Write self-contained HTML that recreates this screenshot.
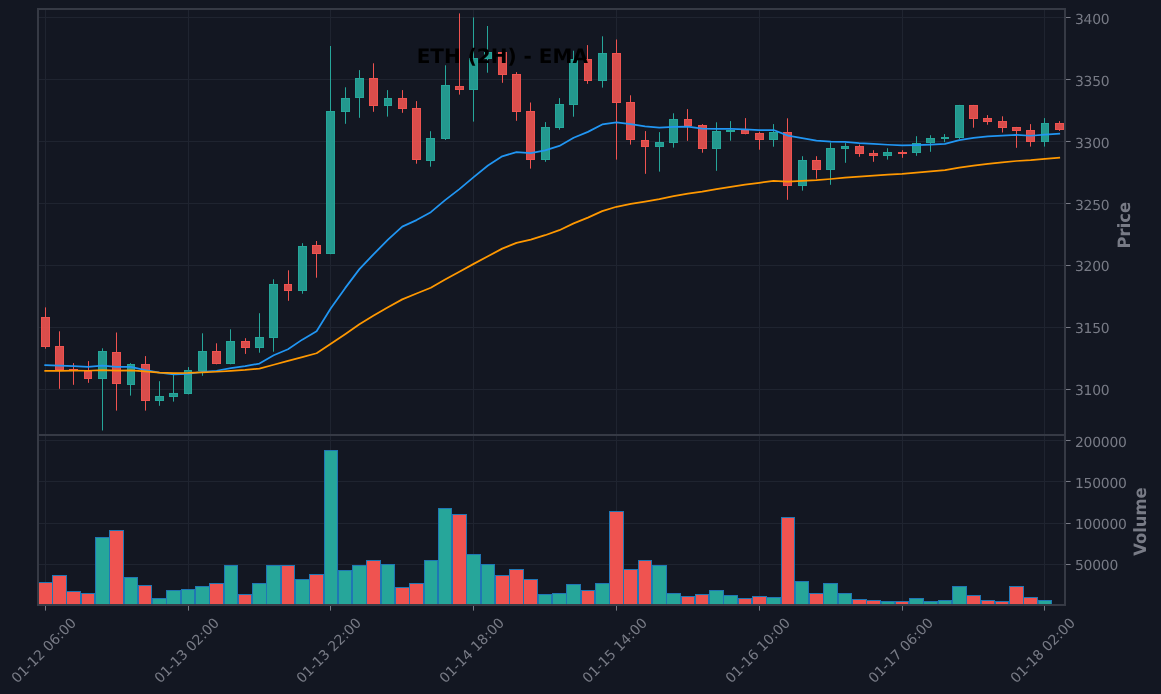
<!DOCTYPE html>
<html lang="en"><head><meta charset="utf-8"><title>ETH (2H) - EMA</title>
<style>html,body{margin:0;padding:0;background:#131722;overflow:hidden}svg{display:block}svg text{font-family:"DejaVu Sans","Liberation Sans",sans-serif;text-rendering:geometricPrecision}#wrap{will-change:transform;width:1161px;height:694px}</style></head>
<body>
<div id="wrap">
<svg width="1161" height="694" viewBox="0 0 1161 694">
<rect width="1161" height="694" fill="#131722"/>
<g fill="#1f2430">
<rect x="45" y="9" width="1" height="596"/>
<rect x="188" y="9" width="1" height="596"/>
<rect x="330" y="9" width="1" height="596"/>
<rect x="473" y="9" width="1" height="596"/>
<rect x="616" y="9" width="1" height="596"/>
<rect x="759" y="9" width="1" height="596"/>
<rect x="902" y="9" width="1" height="596"/>
<rect x="1044" y="9" width="1" height="596"/>
<rect x="38" y="17" width="1027" height="1"/>
<rect x="38" y="79" width="1027" height="1"/>
<rect x="38" y="141" width="1027" height="1"/>
<rect x="38" y="203" width="1027" height="1"/>
<rect x="38" y="265" width="1027" height="1"/>
<rect x="38" y="327" width="1027" height="1"/>
<rect x="38" y="389" width="1027" height="1"/>
<rect x="38" y="440" width="1027" height="1"/>
<rect x="38" y="481" width="1027" height="1"/>
<rect x="38" y="523" width="1027" height="1"/>
<rect x="38" y="564" width="1027" height="1"/>
</g>
<defs><clipPath id="cp"><rect x="38" y="9" width="1027" height="426"/></clipPath><clipPath id="cv"><rect x="38" y="435" width="1027" height="170"/></clipPath></defs>
<g clip-path="url(#cv)">
<rect x="38" y="582" width="15" height="23" fill="#1f77b4"/>
<rect x="39" y="583" width="13" height="22" fill="#ef5350"/>
<rect x="52" y="575" width="15" height="30" fill="#1f77b4"/>
<rect x="53" y="576" width="13" height="29" fill="#ef5350"/>
<rect x="66" y="591" width="15" height="14" fill="#1f77b4"/>
<rect x="67" y="592" width="13" height="13" fill="#ef5350"/>
<rect x="81" y="593" width="14" height="12" fill="#1f77b4"/>
<rect x="82" y="594" width="12" height="11" fill="#ef5350"/>
<rect x="95" y="537" width="15" height="68" fill="#1f77b4"/>
<rect x="96" y="538" width="13" height="67" fill="#26a69a"/>
<rect x="109" y="530" width="15" height="75" fill="#1f77b4"/>
<rect x="110" y="531" width="13" height="74" fill="#ef5350"/>
<rect x="124" y="577" width="14" height="28" fill="#1f77b4"/>
<rect x="125" y="578" width="12" height="27" fill="#26a69a"/>
<rect x="138" y="585" width="14" height="20" fill="#1f77b4"/>
<rect x="139" y="586" width="12" height="19" fill="#ef5350"/>
<rect x="152" y="598" width="15" height="7" fill="#1f77b4"/>
<rect x="153" y="599" width="13" height="6" fill="#26a69a"/>
<rect x="166" y="590" width="15" height="15" fill="#1f77b4"/>
<rect x="167" y="591" width="13" height="14" fill="#26a69a"/>
<rect x="181" y="589" width="14" height="16" fill="#1f77b4"/>
<rect x="182" y="590" width="12" height="15" fill="#26a69a"/>
<rect x="195" y="586" width="15" height="19" fill="#1f77b4"/>
<rect x="196" y="587" width="13" height="18" fill="#26a69a"/>
<rect x="209" y="583" width="15" height="22" fill="#1f77b4"/>
<rect x="210" y="584" width="13" height="21" fill="#ef5350"/>
<rect x="224" y="565" width="14" height="40" fill="#1f77b4"/>
<rect x="225" y="566" width="12" height="39" fill="#26a69a"/>
<rect x="238" y="594" width="14" height="11" fill="#1f77b4"/>
<rect x="239" y="595" width="12" height="10" fill="#ef5350"/>
<rect x="252" y="583" width="15" height="22" fill="#1f77b4"/>
<rect x="253" y="584" width="13" height="21" fill="#26a69a"/>
<rect x="266" y="565" width="15" height="40" fill="#1f77b4"/>
<rect x="267" y="566" width="13" height="39" fill="#26a69a"/>
<rect x="281" y="565" width="14" height="40" fill="#1f77b4"/>
<rect x="282" y="566" width="12" height="39" fill="#ef5350"/>
<rect x="295" y="579" width="15" height="26" fill="#1f77b4"/>
<rect x="296" y="580" width="13" height="25" fill="#26a69a"/>
<rect x="309" y="574" width="15" height="31" fill="#1f77b4"/>
<rect x="310" y="575" width="13" height="30" fill="#ef5350"/>
<rect x="324" y="450" width="14" height="155" fill="#1f77b4"/>
<rect x="325" y="451" width="12" height="154" fill="#26a69a"/>
<rect x="338" y="570" width="14" height="35" fill="#1f77b4"/>
<rect x="339" y="571" width="12" height="34" fill="#26a69a"/>
<rect x="352" y="565" width="15" height="40" fill="#1f77b4"/>
<rect x="353" y="566" width="13" height="39" fill="#26a69a"/>
<rect x="366" y="560" width="15" height="45" fill="#1f77b4"/>
<rect x="367" y="561" width="13" height="44" fill="#ef5350"/>
<rect x="381" y="564" width="14" height="41" fill="#1f77b4"/>
<rect x="382" y="565" width="12" height="40" fill="#26a69a"/>
<rect x="395" y="587" width="15" height="18" fill="#1f77b4"/>
<rect x="396" y="588" width="13" height="17" fill="#ef5350"/>
<rect x="409" y="583" width="15" height="22" fill="#1f77b4"/>
<rect x="410" y="584" width="13" height="21" fill="#ef5350"/>
<rect x="424" y="560" width="14" height="45" fill="#1f77b4"/>
<rect x="425" y="561" width="12" height="44" fill="#26a69a"/>
<rect x="438" y="508" width="14" height="97" fill="#1f77b4"/>
<rect x="439" y="509" width="12" height="96" fill="#26a69a"/>
<rect x="452" y="514" width="15" height="91" fill="#1f77b4"/>
<rect x="453" y="515" width="13" height="90" fill="#ef5350"/>
<rect x="466" y="554" width="15" height="51" fill="#1f77b4"/>
<rect x="467" y="555" width="13" height="50" fill="#26a69a"/>
<rect x="481" y="564" width="14" height="41" fill="#1f77b4"/>
<rect x="482" y="565" width="12" height="40" fill="#26a69a"/>
<rect x="495" y="575" width="15" height="30" fill="#1f77b4"/>
<rect x="496" y="576" width="13" height="29" fill="#ef5350"/>
<rect x="509" y="569" width="15" height="36" fill="#1f77b4"/>
<rect x="510" y="570" width="13" height="35" fill="#ef5350"/>
<rect x="523" y="579" width="15" height="26" fill="#1f77b4"/>
<rect x="524" y="580" width="13" height="25" fill="#ef5350"/>
<rect x="538" y="594" width="14" height="11" fill="#1f77b4"/>
<rect x="539" y="595" width="12" height="10" fill="#26a69a"/>
<rect x="552" y="593" width="15" height="12" fill="#1f77b4"/>
<rect x="553" y="594" width="13" height="11" fill="#26a69a"/>
<rect x="566" y="584" width="15" height="21" fill="#1f77b4"/>
<rect x="567" y="585" width="13" height="20" fill="#26a69a"/>
<rect x="581" y="590" width="14" height="15" fill="#1f77b4"/>
<rect x="582" y="591" width="12" height="14" fill="#ef5350"/>
<rect x="595" y="583" width="15" height="22" fill="#1f77b4"/>
<rect x="596" y="584" width="13" height="21" fill="#26a69a"/>
<rect x="609" y="511" width="15" height="94" fill="#1f77b4"/>
<rect x="610" y="512" width="13" height="93" fill="#ef5350"/>
<rect x="623" y="569" width="15" height="36" fill="#1f77b4"/>
<rect x="624" y="570" width="13" height="35" fill="#ef5350"/>
<rect x="638" y="560" width="14" height="45" fill="#1f77b4"/>
<rect x="639" y="561" width="12" height="44" fill="#ef5350"/>
<rect x="652" y="565" width="15" height="40" fill="#1f77b4"/>
<rect x="653" y="566" width="13" height="39" fill="#26a69a"/>
<rect x="666" y="593" width="15" height="12" fill="#1f77b4"/>
<rect x="667" y="594" width="13" height="11" fill="#26a69a"/>
<rect x="681" y="596" width="14" height="9" fill="#1f77b4"/>
<rect x="682" y="597" width="12" height="8" fill="#ef5350"/>
<rect x="695" y="594" width="14" height="11" fill="#1f77b4"/>
<rect x="696" y="595" width="12" height="10" fill="#ef5350"/>
<rect x="709" y="590" width="15" height="15" fill="#1f77b4"/>
<rect x="710" y="591" width="13" height="14" fill="#26a69a"/>
<rect x="723" y="595" width="15" height="10" fill="#1f77b4"/>
<rect x="724" y="596" width="13" height="9" fill="#26a69a"/>
<rect x="738" y="598" width="14" height="7" fill="#1f77b4"/>
<rect x="739" y="599" width="12" height="6" fill="#ef5350"/>
<rect x="752" y="596" width="15" height="9" fill="#1f77b4"/>
<rect x="753" y="597" width="13" height="8" fill="#ef5350"/>
<rect x="766" y="597" width="15" height="8" fill="#1f77b4"/>
<rect x="767" y="598" width="13" height="7" fill="#26a69a"/>
<rect x="781" y="517" width="14" height="88" fill="#1f77b4"/>
<rect x="782" y="518" width="12" height="87" fill="#ef5350"/>
<rect x="795" y="581" width="14" height="24" fill="#1f77b4"/>
<rect x="796" y="582" width="12" height="23" fill="#26a69a"/>
<rect x="809" y="593" width="15" height="12" fill="#1f77b4"/>
<rect x="810" y="594" width="13" height="11" fill="#ef5350"/>
<rect x="823" y="583" width="15" height="22" fill="#1f77b4"/>
<rect x="824" y="584" width="13" height="21" fill="#26a69a"/>
<rect x="838" y="593" width="14" height="12" fill="#1f77b4"/>
<rect x="839" y="594" width="12" height="11" fill="#26a69a"/>
<rect x="852" y="599" width="15" height="6" fill="#1f77b4"/>
<rect x="853" y="600" width="13" height="5" fill="#ef5350"/>
<rect x="866" y="600" width="15" height="5" fill="#1f77b4"/>
<rect x="867" y="601" width="13" height="4" fill="#ef5350"/>
<rect x="881" y="601" width="14" height="4" fill="#1f77b4"/>
<rect x="882" y="602" width="12" height="3" fill="#26a69a"/>
<rect x="895" y="601" width="14" height="4" fill="#1f77b4"/>
<rect x="896" y="602" width="12" height="3" fill="#ef5350"/>
<rect x="909" y="598" width="15" height="7" fill="#1f77b4"/>
<rect x="910" y="599" width="13" height="6" fill="#26a69a"/>
<rect x="923" y="601" width="15" height="4" fill="#1f77b4"/>
<rect x="924" y="602" width="13" height="3" fill="#26a69a"/>
<rect x="938" y="600" width="14" height="5" fill="#1f77b4"/>
<rect x="939" y="601" width="12" height="4" fill="#26a69a"/>
<rect x="952" y="586" width="15" height="19" fill="#1f77b4"/>
<rect x="953" y="587" width="13" height="18" fill="#26a69a"/>
<rect x="966" y="595" width="15" height="10" fill="#1f77b4"/>
<rect x="967" y="596" width="13" height="9" fill="#ef5350"/>
<rect x="981" y="600" width="14" height="5" fill="#1f77b4"/>
<rect x="982" y="601" width="12" height="4" fill="#ef5350"/>
<rect x="995" y="601" width="14" height="4" fill="#1f77b4"/>
<rect x="996" y="602" width="12" height="3" fill="#ef5350"/>
<rect x="1009" y="586" width="15" height="19" fill="#1f77b4"/>
<rect x="1010" y="587" width="13" height="18" fill="#ef5350"/>
<rect x="1023" y="597" width="15" height="8" fill="#1f77b4"/>
<rect x="1024" y="598" width="13" height="7" fill="#ef5350"/>
<rect x="1038" y="600" width="14" height="5" fill="#1f77b4"/>
<rect x="1039" y="601" width="12" height="4" fill="#26a69a"/>
</g>
<g clip-path="url(#cp)">
<rect x="45" y="307.4" width="1" height="9.6" fill="#ef5350"/>
<rect x="45" y="347" width="1" height="1.7" fill="#ef5350"/>
<rect x="41" y="317" width="9" height="30" fill="#ef5350" fill-opacity="0.9"/>
<rect x="41.5" y="317.5" width="8" height="29" fill="none" stroke="#ef5350" stroke-width="1"/>
<rect x="59" y="331.3" width="1" height="14.7" fill="#ef5350"/>
<rect x="59" y="370" width="1" height="18.8" fill="#ef5350"/>
<rect x="55" y="346" width="9" height="24" fill="#ef5350" fill-opacity="0.9"/>
<rect x="55.5" y="346.5" width="8" height="23" fill="none" stroke="#ef5350" stroke-width="1"/>
<rect x="73" y="363.1" width="1" height="5.9" fill="#ef5350"/>
<rect x="73" y="371" width="1" height="13.8" fill="#ef5350"/>
<rect x="69" y="369" width="9" height="2" fill="#ef5350" fill-opacity="0.9"/>
<rect x="69.5" y="369.5" width="8" height="1" fill="none" stroke="#ef5350" stroke-width="1"/>
<rect x="88" y="361.1" width="1" height="9.9" fill="#ef5350"/>
<rect x="88" y="379" width="1" height="3.8" fill="#ef5350"/>
<rect x="84" y="371" width="8" height="8" fill="#ef5350" fill-opacity="0.9"/>
<rect x="84.5" y="371.5" width="7" height="7" fill="none" stroke="#ef5350" stroke-width="1"/>
<rect x="102" y="348.3" width="1" height="2.7" fill="#26a69a"/>
<rect x="102" y="379" width="1" height="51.5" fill="#26a69a"/>
<rect x="98" y="351" width="9" height="28" fill="#26a69a" fill-opacity="0.9"/>
<rect x="98.5" y="351.5" width="8" height="27" fill="none" stroke="#26a69a" stroke-width="1"/>
<rect x="116" y="332.5" width="1" height="19.5" fill="#ef5350"/>
<rect x="116" y="384" width="1" height="26.6" fill="#ef5350"/>
<rect x="112" y="352" width="9" height="32" fill="#ef5350" fill-opacity="0.9"/>
<rect x="112.5" y="352.5" width="8" height="31" fill="none" stroke="#ef5350" stroke-width="1"/>
<rect x="130" y="363.1" width="1" height="0.9" fill="#26a69a"/>
<rect x="130" y="385" width="1" height="10.6" fill="#26a69a"/>
<rect x="127" y="364" width="8" height="21" fill="#26a69a" fill-opacity="0.9"/>
<rect x="127.5" y="364.5" width="7" height="20" fill="none" stroke="#26a69a" stroke-width="1"/>
<rect x="145" y="356.1" width="1" height="7.9" fill="#ef5350"/>
<rect x="145" y="401" width="1" height="9.6" fill="#ef5350"/>
<rect x="141" y="364" width="9" height="37" fill="#ef5350" fill-opacity="0.9"/>
<rect x="141.5" y="364.5" width="8" height="36" fill="none" stroke="#ef5350" stroke-width="1"/>
<rect x="159" y="381.2" width="1" height="14.8" fill="#26a69a"/>
<rect x="159" y="401" width="1" height="4.8" fill="#26a69a"/>
<rect x="155" y="396" width="9" height="5" fill="#26a69a" fill-opacity="0.9"/>
<rect x="155.5" y="396.5" width="8" height="4" fill="none" stroke="#26a69a" stroke-width="1"/>
<rect x="173" y="374.8" width="1" height="18.2" fill="#26a69a"/>
<rect x="173" y="397" width="1" height="4.6" fill="#26a69a"/>
<rect x="169" y="393" width="9" height="4" fill="#26a69a" fill-opacity="0.9"/>
<rect x="169.5" y="393.5" width="8" height="3" fill="none" stroke="#26a69a" stroke-width="1"/>
<rect x="188" y="367.1" width="1" height="2.9" fill="#26a69a"/>
<rect x="188" y="394" width="1" height="0.4" fill="#26a69a"/>
<rect x="184" y="370" width="8" height="24" fill="#26a69a" fill-opacity="0.9"/>
<rect x="184.5" y="370.5" width="7" height="23" fill="none" stroke="#26a69a" stroke-width="1"/>
<rect x="202" y="333.3" width="1" height="17.7" fill="#26a69a"/>
<rect x="202" y="371" width="1" height="4.8" fill="#26a69a"/>
<rect x="198" y="351" width="9" height="20" fill="#26a69a" fill-opacity="0.9"/>
<rect x="198.5" y="351.5" width="8" height="19" fill="none" stroke="#26a69a" stroke-width="1"/>
<rect x="216" y="343.3" width="1" height="7.7" fill="#ef5350"/>
<rect x="216" y="364" width="1" height="0.3" fill="#ef5350"/>
<rect x="212" y="351" width="9" height="13" fill="#ef5350" fill-opacity="0.9"/>
<rect x="212.5" y="351.5" width="8" height="12" fill="none" stroke="#ef5350" stroke-width="1"/>
<rect x="230" y="329.3" width="1" height="11.7" fill="#26a69a"/>
<rect x="230" y="364" width="1" height="0.3" fill="#26a69a"/>
<rect x="226" y="341" width="9" height="23" fill="#26a69a" fill-opacity="0.9"/>
<rect x="226.5" y="341.5" width="8" height="22" fill="none" stroke="#26a69a" stroke-width="1"/>
<rect x="245" y="338.2" width="1" height="2.8" fill="#ef5350"/>
<rect x="245" y="348" width="1" height="5.9" fill="#ef5350"/>
<rect x="241" y="341" width="9" height="7" fill="#ef5350" fill-opacity="0.9"/>
<rect x="241.5" y="341.5" width="8" height="6" fill="none" stroke="#ef5350" stroke-width="1"/>
<rect x="259" y="313.2" width="1" height="23.8" fill="#26a69a"/>
<rect x="259" y="348" width="1" height="4.7" fill="#26a69a"/>
<rect x="255" y="337" width="9" height="11" fill="#26a69a" fill-opacity="0.9"/>
<rect x="255.5" y="337.5" width="8" height="10" fill="none" stroke="#26a69a" stroke-width="1"/>
<rect x="273" y="279.3" width="1" height="4.7" fill="#26a69a"/>
<rect x="273" y="338" width="1" height="13.7" fill="#26a69a"/>
<rect x="269" y="284" width="9" height="54" fill="#26a69a" fill-opacity="0.9"/>
<rect x="269.5" y="284.5" width="8" height="53" fill="none" stroke="#26a69a" stroke-width="1"/>
<rect x="288" y="270.3" width="1" height="13.7" fill="#ef5350"/>
<rect x="288" y="291" width="1" height="9.8" fill="#ef5350"/>
<rect x="284" y="284" width="8" height="7" fill="#ef5350" fill-opacity="0.9"/>
<rect x="284.5" y="284.5" width="7" height="6" fill="none" stroke="#ef5350" stroke-width="1"/>
<rect x="302" y="243.2" width="1" height="2.8" fill="#26a69a"/>
<rect x="302" y="291" width="1" height="2.7" fill="#26a69a"/>
<rect x="298" y="246" width="9" height="45" fill="#26a69a" fill-opacity="0.9"/>
<rect x="298.5" y="246.5" width="8" height="44" fill="none" stroke="#26a69a" stroke-width="1"/>
<rect x="316" y="241.0" width="1" height="4.0" fill="#ef5350"/>
<rect x="316" y="254" width="1" height="23.7" fill="#ef5350"/>
<rect x="312" y="245" width="9" height="9" fill="#ef5350" fill-opacity="0.9"/>
<rect x="312.5" y="245.5" width="8" height="8" fill="none" stroke="#ef5350" stroke-width="1"/>
<rect x="330" y="46.0" width="1" height="65.0" fill="#26a69a"/>
<rect x="330" y="254" width="1" height="0.2" fill="#26a69a"/>
<rect x="326" y="111" width="9" height="143" fill="#26a69a" fill-opacity="0.9"/>
<rect x="326.5" y="111.5" width="8" height="142" fill="none" stroke="#26a69a" stroke-width="1"/>
<rect x="345" y="87.3" width="1" height="10.7" fill="#26a69a"/>
<rect x="345" y="112" width="1" height="11.8" fill="#26a69a"/>
<rect x="341" y="98" width="9" height="14" fill="#26a69a" fill-opacity="0.9"/>
<rect x="341.5" y="98.5" width="8" height="13" fill="none" stroke="#26a69a" stroke-width="1"/>
<rect x="359" y="70.1" width="1" height="7.9" fill="#26a69a"/>
<rect x="359" y="98" width="1" height="19.8" fill="#26a69a"/>
<rect x="355" y="78" width="9" height="20" fill="#26a69a" fill-opacity="0.9"/>
<rect x="355.5" y="78.5" width="8" height="19" fill="none" stroke="#26a69a" stroke-width="1"/>
<rect x="373" y="63.3" width="1" height="14.7" fill="#ef5350"/>
<rect x="373" y="106" width="1" height="5.8" fill="#ef5350"/>
<rect x="369" y="78" width="9" height="28" fill="#ef5350" fill-opacity="0.9"/>
<rect x="369.5" y="78.5" width="8" height="27" fill="none" stroke="#ef5350" stroke-width="1"/>
<rect x="387" y="90.1" width="1" height="7.9" fill="#26a69a"/>
<rect x="387" y="106" width="1" height="10.6" fill="#26a69a"/>
<rect x="384" y="98" width="8" height="8" fill="#26a69a" fill-opacity="0.9"/>
<rect x="384.5" y="98.5" width="7" height="7" fill="none" stroke="#26a69a" stroke-width="1"/>
<rect x="402" y="90.1" width="1" height="7.9" fill="#ef5350"/>
<rect x="402" y="109" width="1" height="3.8" fill="#ef5350"/>
<rect x="398" y="98" width="9" height="11" fill="#ef5350" fill-opacity="0.9"/>
<rect x="398.5" y="98.5" width="8" height="10" fill="none" stroke="#ef5350" stroke-width="1"/>
<rect x="416" y="101.1" width="1" height="6.9" fill="#ef5350"/>
<rect x="416" y="160" width="1" height="3.7" fill="#ef5350"/>
<rect x="412" y="108" width="9" height="52" fill="#ef5350" fill-opacity="0.9"/>
<rect x="412.5" y="108.5" width="8" height="51" fill="none" stroke="#ef5350" stroke-width="1"/>
<rect x="430" y="131.2" width="1" height="6.8" fill="#26a69a"/>
<rect x="430" y="161" width="1" height="5.7" fill="#26a69a"/>
<rect x="426" y="138" width="9" height="23" fill="#26a69a" fill-opacity="0.9"/>
<rect x="426.5" y="138.5" width="8" height="22" fill="none" stroke="#26a69a" stroke-width="1"/>
<rect x="445" y="65.3" width="1" height="19.7" fill="#26a69a"/>
<rect x="445" y="139" width="1" height="1.0" fill="#26a69a"/>
<rect x="441" y="85" width="9" height="54" fill="#26a69a" fill-opacity="0.9"/>
<rect x="441.5" y="85.5" width="8" height="53" fill="none" stroke="#26a69a" stroke-width="1"/>
<rect x="459" y="13.4" width="1" height="72.6" fill="#ef5350"/>
<rect x="459" y="90" width="1" height="4.6" fill="#ef5350"/>
<rect x="455" y="86" width="9" height="4" fill="#ef5350" fill-opacity="0.9"/>
<rect x="455.5" y="86.5" width="8" height="3" fill="none" stroke="#ef5350" stroke-width="1"/>
<rect x="473" y="17.4" width="1" height="40.6" fill="#26a69a"/>
<rect x="473" y="90" width="1" height="31.6" fill="#26a69a"/>
<rect x="469" y="58" width="9" height="32" fill="#26a69a" fill-opacity="0.9"/>
<rect x="469.5" y="58.5" width="8" height="31" fill="none" stroke="#26a69a" stroke-width="1"/>
<rect x="487" y="26.0" width="1" height="26.0" fill="#26a69a"/>
<rect x="487" y="59" width="1" height="13.7" fill="#26a69a"/>
<rect x="484" y="52" width="8" height="7" fill="#26a69a" fill-opacity="0.9"/>
<rect x="484.5" y="52.5" width="7" height="6" fill="none" stroke="#26a69a" stroke-width="1"/>
<rect x="502" y="50.7" width="1" height="1.3" fill="#ef5350"/>
<rect x="502" y="75" width="1" height="7.8" fill="#ef5350"/>
<rect x="498" y="52" width="9" height="23" fill="#ef5350" fill-opacity="0.9"/>
<rect x="498.5" y="52.5" width="8" height="22" fill="none" stroke="#ef5350" stroke-width="1"/>
<rect x="516" y="72.1" width="1" height="1.9" fill="#ef5350"/>
<rect x="516" y="112" width="1" height="8.8" fill="#ef5350"/>
<rect x="512" y="74" width="9" height="38" fill="#ef5350" fill-opacity="0.9"/>
<rect x="512.5" y="74.5" width="8" height="37" fill="none" stroke="#ef5350" stroke-width="1"/>
<rect x="530" y="102.5" width="1" height="8.5" fill="#ef5350"/>
<rect x="530" y="160" width="1" height="8.6" fill="#ef5350"/>
<rect x="526" y="111" width="9" height="49" fill="#ef5350" fill-opacity="0.9"/>
<rect x="526.5" y="111.5" width="8" height="48" fill="none" stroke="#ef5350" stroke-width="1"/>
<rect x="545" y="122.1" width="1" height="4.9" fill="#26a69a"/>
<rect x="545" y="160" width="1" height="1.8" fill="#26a69a"/>
<rect x="541" y="127" width="9" height="33" fill="#26a69a" fill-opacity="0.9"/>
<rect x="541.5" y="127.5" width="8" height="32" fill="none" stroke="#26a69a" stroke-width="1"/>
<rect x="559" y="98.1" width="1" height="5.9" fill="#26a69a"/>
<rect x="559" y="128" width="1" height="1.7" fill="#26a69a"/>
<rect x="555" y="104" width="9" height="24" fill="#26a69a" fill-opacity="0.9"/>
<rect x="555.5" y="104.5" width="8" height="23" fill="none" stroke="#26a69a" stroke-width="1"/>
<rect x="573" y="50.7" width="1" height="8.3" fill="#26a69a"/>
<rect x="573" y="105" width="1" height="11.7" fill="#26a69a"/>
<rect x="569" y="59" width="9" height="46" fill="#26a69a" fill-opacity="0.9"/>
<rect x="569.5" y="59.5" width="8" height="45" fill="none" stroke="#26a69a" stroke-width="1"/>
<rect x="587" y="45.1" width="1" height="13.9" fill="#ef5350"/>
<rect x="587" y="81" width="1" height="2.8" fill="#ef5350"/>
<rect x="584" y="59" width="8" height="22" fill="#ef5350" fill-opacity="0.9"/>
<rect x="584.5" y="59.5" width="7" height="21" fill="none" stroke="#ef5350" stroke-width="1"/>
<rect x="602" y="36.3" width="1" height="16.7" fill="#26a69a"/>
<rect x="602" y="81" width="1" height="6.6" fill="#26a69a"/>
<rect x="598" y="53" width="9" height="28" fill="#26a69a" fill-opacity="0.9"/>
<rect x="598.5" y="53.5" width="8" height="27" fill="none" stroke="#26a69a" stroke-width="1"/>
<rect x="616" y="39.5" width="1" height="13.5" fill="#ef5350"/>
<rect x="616" y="103" width="1" height="56.6" fill="#ef5350"/>
<rect x="612" y="53" width="9" height="50" fill="#ef5350" fill-opacity="0.9"/>
<rect x="612.5" y="53.5" width="8" height="49" fill="none" stroke="#ef5350" stroke-width="1"/>
<rect x="630" y="95.3" width="1" height="6.7" fill="#ef5350"/>
<rect x="630" y="140" width="1" height="4.6" fill="#ef5350"/>
<rect x="626" y="102" width="9" height="38" fill="#ef5350" fill-opacity="0.9"/>
<rect x="626.5" y="102.5" width="8" height="37" fill="none" stroke="#ef5350" stroke-width="1"/>
<rect x="645" y="131.1" width="1" height="8.9" fill="#ef5350"/>
<rect x="645" y="147" width="1" height="26.8" fill="#ef5350"/>
<rect x="641" y="140" width="8" height="7" fill="#ef5350" fill-opacity="0.9"/>
<rect x="641.5" y="140.5" width="7" height="6" fill="none" stroke="#ef5350" stroke-width="1"/>
<rect x="659" y="132.1" width="1" height="9.9" fill="#26a69a"/>
<rect x="659" y="147" width="1" height="24.6" fill="#26a69a"/>
<rect x="655" y="142" width="9" height="5" fill="#26a69a" fill-opacity="0.9"/>
<rect x="655.5" y="142.5" width="8" height="4" fill="none" stroke="#26a69a" stroke-width="1"/>
<rect x="673" y="113.3" width="1" height="5.7" fill="#26a69a"/>
<rect x="673" y="143" width="1" height="4.6" fill="#26a69a"/>
<rect x="669" y="119" width="9" height="24" fill="#26a69a" fill-opacity="0.9"/>
<rect x="669.5" y="119.5" width="8" height="23" fill="none" stroke="#26a69a" stroke-width="1"/>
<rect x="687" y="109.1" width="1" height="9.9" fill="#ef5350"/>
<rect x="687" y="126" width="1" height="14.8" fill="#ef5350"/>
<rect x="684" y="119" width="8" height="7" fill="#ef5350" fill-opacity="0.9"/>
<rect x="684.5" y="119.5" width="7" height="6" fill="none" stroke="#ef5350" stroke-width="1"/>
<rect x="702" y="124.1" width="1" height="0.9" fill="#ef5350"/>
<rect x="702" y="149" width="1" height="3.7" fill="#ef5350"/>
<rect x="698" y="125" width="9" height="24" fill="#ef5350" fill-opacity="0.9"/>
<rect x="698.5" y="125.5" width="8" height="23" fill="none" stroke="#ef5350" stroke-width="1"/>
<rect x="716" y="122.3" width="1" height="8.7" fill="#26a69a"/>
<rect x="716" y="149" width="1" height="21.8" fill="#26a69a"/>
<rect x="712" y="131" width="9" height="18" fill="#26a69a" fill-opacity="0.9"/>
<rect x="712.5" y="131.5" width="8" height="17" fill="none" stroke="#26a69a" stroke-width="1"/>
<rect x="730" y="121.1" width="1" height="8.9" fill="#26a69a"/>
<rect x="730" y="132" width="1" height="8.7" fill="#26a69a"/>
<rect x="726" y="130" width="9" height="2" fill="#26a69a" fill-opacity="0.9"/>
<rect x="726.5" y="130.5" width="8" height="1" fill="none" stroke="#26a69a" stroke-width="1"/>
<rect x="745" y="118.1" width="1" height="11.9" fill="#ef5350"/>
<rect x="745" y="134" width="1" height="0.3" fill="#ef5350"/>
<rect x="741" y="130" width="8" height="4" fill="#ef5350" fill-opacity="0.9"/>
<rect x="741.5" y="130.5" width="7" height="3" fill="none" stroke="#ef5350" stroke-width="1"/>
<rect x="759" y="131.7" width="1" height="1.3" fill="#ef5350"/>
<rect x="759" y="140" width="1" height="9.7" fill="#ef5350"/>
<rect x="755" y="133" width="9" height="7" fill="#ef5350" fill-opacity="0.9"/>
<rect x="755.5" y="133.5" width="8" height="6" fill="none" stroke="#ef5350" stroke-width="1"/>
<rect x="773" y="124.1" width="1" height="7.9" fill="#26a69a"/>
<rect x="773" y="140" width="1" height="6.7" fill="#26a69a"/>
<rect x="769" y="132" width="9" height="8" fill="#26a69a" fill-opacity="0.9"/>
<rect x="769.5" y="132.5" width="8" height="7" fill="none" stroke="#26a69a" stroke-width="1"/>
<rect x="787" y="118.3" width="1" height="13.7" fill="#ef5350"/>
<rect x="787" y="186" width="1" height="13.8" fill="#ef5350"/>
<rect x="783" y="132" width="9" height="54" fill="#ef5350" fill-opacity="0.9"/>
<rect x="783.5" y="132.5" width="8" height="53" fill="none" stroke="#ef5350" stroke-width="1"/>
<rect x="802" y="156.2" width="1" height="3.8" fill="#26a69a"/>
<rect x="802" y="186" width="1" height="4.6" fill="#26a69a"/>
<rect x="798" y="160" width="9" height="26" fill="#26a69a" fill-opacity="0.9"/>
<rect x="798.5" y="160.5" width="8" height="25" fill="none" stroke="#26a69a" stroke-width="1"/>
<rect x="816" y="156.2" width="1" height="3.8" fill="#ef5350"/>
<rect x="816" y="170" width="1" height="8.6" fill="#ef5350"/>
<rect x="812" y="160" width="9" height="10" fill="#ef5350" fill-opacity="0.9"/>
<rect x="812.5" y="160.5" width="8" height="9" fill="none" stroke="#ef5350" stroke-width="1"/>
<rect x="830" y="142.5" width="1" height="5.5" fill="#26a69a"/>
<rect x="830" y="170" width="1" height="14.8" fill="#26a69a"/>
<rect x="826" y="148" width="9" height="22" fill="#26a69a" fill-opacity="0.9"/>
<rect x="826.5" y="148.5" width="8" height="21" fill="none" stroke="#26a69a" stroke-width="1"/>
<rect x="845" y="143.1" width="1" height="2.9" fill="#26a69a"/>
<rect x="845" y="149" width="1" height="13.8" fill="#26a69a"/>
<rect x="841" y="146" width="8" height="3" fill="#26a69a" fill-opacity="0.9"/>
<rect x="841.5" y="146.5" width="7" height="2" fill="none" stroke="#26a69a" stroke-width="1"/>
<rect x="859" y="144.5" width="1" height="1.5" fill="#ef5350"/>
<rect x="859" y="154" width="1" height="2.8" fill="#ef5350"/>
<rect x="855" y="146" width="9" height="8" fill="#ef5350" fill-opacity="0.9"/>
<rect x="855.5" y="146.5" width="8" height="7" fill="none" stroke="#ef5350" stroke-width="1"/>
<rect x="873" y="150.2" width="1" height="2.8" fill="#ef5350"/>
<rect x="873" y="156" width="1" height="5.8" fill="#ef5350"/>
<rect x="869" y="153" width="9" height="3" fill="#ef5350" fill-opacity="0.9"/>
<rect x="869.5" y="153.5" width="8" height="2" fill="none" stroke="#ef5350" stroke-width="1"/>
<rect x="887" y="148.2" width="1" height="3.8" fill="#26a69a"/>
<rect x="887" y="156" width="1" height="3.6" fill="#26a69a"/>
<rect x="883" y="152" width="9" height="4" fill="#26a69a" fill-opacity="0.9"/>
<rect x="883.5" y="152.5" width="8" height="3" fill="none" stroke="#26a69a" stroke-width="1"/>
<rect x="902" y="150.2" width="1" height="1.8" fill="#ef5350"/>
<rect x="902" y="154" width="1" height="3.8" fill="#ef5350"/>
<rect x="898" y="152" width="9" height="2" fill="#ef5350" fill-opacity="0.9"/>
<rect x="898.5" y="152.5" width="8" height="1" fill="none" stroke="#ef5350" stroke-width="1"/>
<rect x="916" y="136.2" width="1" height="6.8" fill="#26a69a"/>
<rect x="916" y="153" width="1" height="2.8" fill="#26a69a"/>
<rect x="912" y="143" width="9" height="10" fill="#26a69a" fill-opacity="0.9"/>
<rect x="912.5" y="143.5" width="8" height="9" fill="none" stroke="#26a69a" stroke-width="1"/>
<rect x="930" y="135.2" width="1" height="2.8" fill="#26a69a"/>
<rect x="930" y="143" width="1" height="8.8" fill="#26a69a"/>
<rect x="926" y="138" width="9" height="5" fill="#26a69a" fill-opacity="0.9"/>
<rect x="926.5" y="138.5" width="8" height="4" fill="none" stroke="#26a69a" stroke-width="1"/>
<rect x="944" y="134.1" width="1" height="2.9" fill="#26a69a"/>
<rect x="944" y="139" width="1" height="3.2" fill="#26a69a"/>
<rect x="941" y="137" width="8" height="2" fill="#26a69a" fill-opacity="0.9"/>
<rect x="941.5" y="137.5" width="7" height="1" fill="none" stroke="#26a69a" stroke-width="1"/>
<rect x="959" y="104.9" width="1" height="0.1" fill="#26a69a"/>
<rect x="959" y="138" width="1" height="1.0" fill="#26a69a"/>
<rect x="955" y="105" width="9" height="33" fill="#26a69a" fill-opacity="0.9"/>
<rect x="955.5" y="105.5" width="8" height="32" fill="none" stroke="#26a69a" stroke-width="1"/>
<rect x="973" y="104.9" width="1" height="0.1" fill="#ef5350"/>
<rect x="973" y="119" width="1" height="8.7" fill="#ef5350"/>
<rect x="969" y="105" width="9" height="14" fill="#ef5350" fill-opacity="0.9"/>
<rect x="969.5" y="105.5" width="8" height="13" fill="none" stroke="#ef5350" stroke-width="1"/>
<rect x="987" y="115.1" width="1" height="2.9" fill="#ef5350"/>
<rect x="987" y="122" width="1" height="2.7" fill="#ef5350"/>
<rect x="983" y="118" width="9" height="4" fill="#ef5350" fill-opacity="0.9"/>
<rect x="983.5" y="118.5" width="8" height="3" fill="none" stroke="#ef5350" stroke-width="1"/>
<rect x="1002" y="116.3" width="1" height="4.7" fill="#ef5350"/>
<rect x="1002" y="128" width="1" height="4.5" fill="#ef5350"/>
<rect x="998" y="121" width="9" height="7" fill="#ef5350" fill-opacity="0.9"/>
<rect x="998.5" y="121.5" width="8" height="6" fill="none" stroke="#ef5350" stroke-width="1"/>
<rect x="1016" y="126.9" width="1" height="0.1" fill="#ef5350"/>
<rect x="1016" y="131" width="1" height="16.8" fill="#ef5350"/>
<rect x="1012" y="127" width="9" height="4" fill="#ef5350" fill-opacity="0.9"/>
<rect x="1012.5" y="127.5" width="8" height="3" fill="none" stroke="#ef5350" stroke-width="1"/>
<rect x="1030" y="124.1" width="1" height="5.9" fill="#ef5350"/>
<rect x="1030" y="142" width="1" height="4.6" fill="#ef5350"/>
<rect x="1026" y="130" width="9" height="12" fill="#ef5350" fill-opacity="0.9"/>
<rect x="1026.5" y="130.5" width="8" height="11" fill="none" stroke="#ef5350" stroke-width="1"/>
<rect x="1044" y="118.1" width="1" height="4.9" fill="#26a69a"/>
<rect x="1044" y="142" width="1" height="4.6" fill="#26a69a"/>
<rect x="1041" y="123" width="8" height="19" fill="#26a69a" fill-opacity="0.9"/>
<rect x="1041.5" y="123.5" width="7" height="18" fill="none" stroke="#26a69a" stroke-width="1"/>
<rect x="1059" y="121.1" width="1" height="1.9" fill="#ef5350"/>
<rect x="1059" y="130" width="1" height="0.9" fill="#ef5350"/>
<rect x="1055" y="123" width="9" height="7" fill="#ef5350" fill-opacity="0.9"/>
<rect x="1055.5" y="123.5" width="8" height="6" fill="none" stroke="#ef5350" stroke-width="1"/>
<polyline points="45.21,365.14 59.49,365.74 73.77,366.14 88.06,366.94 102.34,365.74 116.62,366.94 130.90,366.94 145.18,370.15 159.47,372.55 173.75,374.36 188.03,373.96 202.31,371.75 216.59,370.75 230.88,368.14 245.16,366.14 259.44,363.54 273.72,355.27 288.00,349.26 302.29,339.64 316.57,331.22 330.85,308.18 345.13,288.14 359.41,269.10 373.70,254.07 387.98,239.63 402.26,226.60 416.54,220.09 430.82,212.16 445.11,200.14 459.39,189.12 473.67,177.09 487.95,165.47 502.23,156.32 516.52,152.11 530.80,153.02 545.08,150.31 559.36,145.90 573.64,137.69 587.93,131.87 602.21,124.47 616.49,122.46 630.77,124.07 645.05,126.27 659.34,127.68 673.62,126.97 687.90,126.67 702.18,128.68 716.46,128.96 730.75,128.96 745.03,129.36 759.31,130.06 773.59,130.06 787.87,135.67 802.16,138.12 816.44,140.72 830.72,141.52 845.00,141.92 859.28,143.13 873.57,143.85 887.85,144.75 902.13,145.45 916.41,145.05 930.69,144.57 944.98,143.97 959.26,140.16 973.54,137.96 987.82,136.35 1002.10,135.55 1016.39,134.95 1030.67,135.75 1044.95,134.55 1059.23,133.75" fill="none" stroke="#2196f3" stroke-width="1.75" stroke-linejoin="round" stroke-linecap="square"/>
<polyline points="45.21,370.75 59.49,370.75 73.77,370.55 88.06,370.75 102.34,370.15 116.62,370.55 130.90,370.35 145.18,371.35 159.47,372.55 173.75,373.15 188.03,372.95 202.31,372.35 216.59,371.75 230.88,370.95 245.16,369.95 259.44,368.55 273.72,364.73 288.00,360.91 302.29,357.09 316.57,353.27 330.85,343.85 345.13,334.23 359.41,324.21 373.70,315.59 387.98,307.17 402.26,299.36 416.54,293.55 430.82,287.74 445.11,279.52 459.39,271.70 473.67,263.87 487.95,256.25 502.23,248.64 516.52,242.83 530.80,239.62 545.08,235.21 559.36,230.20 573.64,223.40 587.93,217.59 602.21,211.17 616.49,206.77 630.77,203.77 645.05,201.56 659.34,199.16 673.62,196.15 687.90,193.55 702.18,191.68 716.46,189.18 730.75,186.77 745.03,184.57 759.31,182.77 773.59,180.86 787.87,181.56 802.16,180.80 816.44,180.20 830.72,179.00 845.00,177.60 859.28,176.59 873.57,175.61 887.85,174.71 902.13,173.91 916.41,172.71 930.69,171.42 944.98,170.02 959.26,167.62 973.54,165.61 987.82,163.81 1002.10,162.40 1016.39,161.00 1030.67,160.20 1044.95,158.80 1059.23,157.60" fill="none" stroke="#ff9800" stroke-width="1.75" stroke-linejoin="round" stroke-linecap="square"/>
</g>
<g fill="#363a45">
<rect x="37" y="8" width="1029" height="2"/>
<rect x="37" y="604" width="1029" height="2"/>
<rect x="37" y="434" width="1029" height="2"/>
<rect x="37" y="8" width="2" height="598"/>
<rect x="1064" y="8" width="2" height="598"/>
</g>
<g fill="#787b86">
<rect x="1066" y="17" width="4.6" height="1"/>
<rect x="1066" y="79" width="4.6" height="1"/>
<rect x="1066" y="141" width="4.6" height="1"/>
<rect x="1066" y="203" width="4.6" height="1"/>
<rect x="1066" y="265" width="4.6" height="1"/>
<rect x="1066" y="327" width="4.6" height="1"/>
<rect x="1066" y="389" width="4.6" height="1"/>
<rect x="1066" y="440" width="4.6" height="1"/>
<rect x="1066" y="481" width="4.6" height="1"/>
<rect x="1066" y="523" width="4.6" height="1"/>
<rect x="1066" y="564" width="4.6" height="1"/>
<rect x="45" y="606" width="1" height="4.6"/>
<rect x="188" y="606" width="1" height="4.6"/>
<rect x="330" y="606" width="1" height="4.6"/>
<rect x="473" y="606" width="1" height="4.6"/>
<rect x="616" y="606" width="1" height="4.6"/>
<rect x="759" y="606" width="1" height="4.6"/>
<rect x="902" y="606" width="1" height="4.6"/>
<rect x="1044" y="606" width="1" height="4.6"/>
</g>
<g fill="#787b86" font-size="13.89px">
<text x="1075" y="24" letter-spacing="-0.22">3400</text>
<text x="1075" y="86" letter-spacing="-0.22">3350</text>
<text x="1075" y="148" letter-spacing="-0.22">3300</text>
<text x="1075" y="210" letter-spacing="-0.22">3250</text>
<text x="1075" y="271" letter-spacing="-0.22">3200</text>
<text x="1075" y="333" letter-spacing="-0.22">3150</text>
<text x="1075" y="395" letter-spacing="-0.22">3100</text>
<text x="1075" y="447" letter-spacing="-0.22">200000</text>
<text x="1075" y="488" letter-spacing="-0.22">150000</text>
<text x="1075" y="529" letter-spacing="-0.22">100000</text>
<text x="1075" y="570" letter-spacing="-0.22">50000</text>
<text transform="translate(44.50,651.2) rotate(-45)" text-anchor="middle" y="3.7">01-12 06:00</text>
<text transform="translate(187.50,651.2) rotate(-45)" text-anchor="middle" y="3.7">01-13 02:00</text>
<text transform="translate(329.50,651.2) rotate(-45)" text-anchor="middle" y="3.7">01-13 22:00</text>
<text transform="translate(472.50,651.2) rotate(-45)" text-anchor="middle" y="3.7">01-14 18:00</text>
<text transform="translate(615.50,651.2) rotate(-45)" text-anchor="middle" y="3.7">01-15 14:00</text>
<text transform="translate(758.50,651.2) rotate(-45)" text-anchor="middle" y="3.7">01-16 10:00</text>
<text transform="translate(901.50,651.2) rotate(-45)" text-anchor="middle" y="3.7">01-17 06:00</text>
<text transform="translate(1043.50,651.2) rotate(-45)" text-anchor="middle" y="3.7">01-18 02:00</text>
</g>
<g fill="#787b86" font-size="16.4px" font-weight="bold" text-anchor="middle">
<text transform="translate(1130.2,225.2) rotate(-90) scale(1,1.035)">Price</text>
<text transform="translate(1146.2,521.6) rotate(-90) scale(1,1.035)">Volume</text>
</g>
<text x="502.3" y="62.5" text-anchor="middle" font-size="20px" font-weight="bold" fill="#000000">ETH (2H) - EMA</text>
</svg>
</div>
</body></html>
